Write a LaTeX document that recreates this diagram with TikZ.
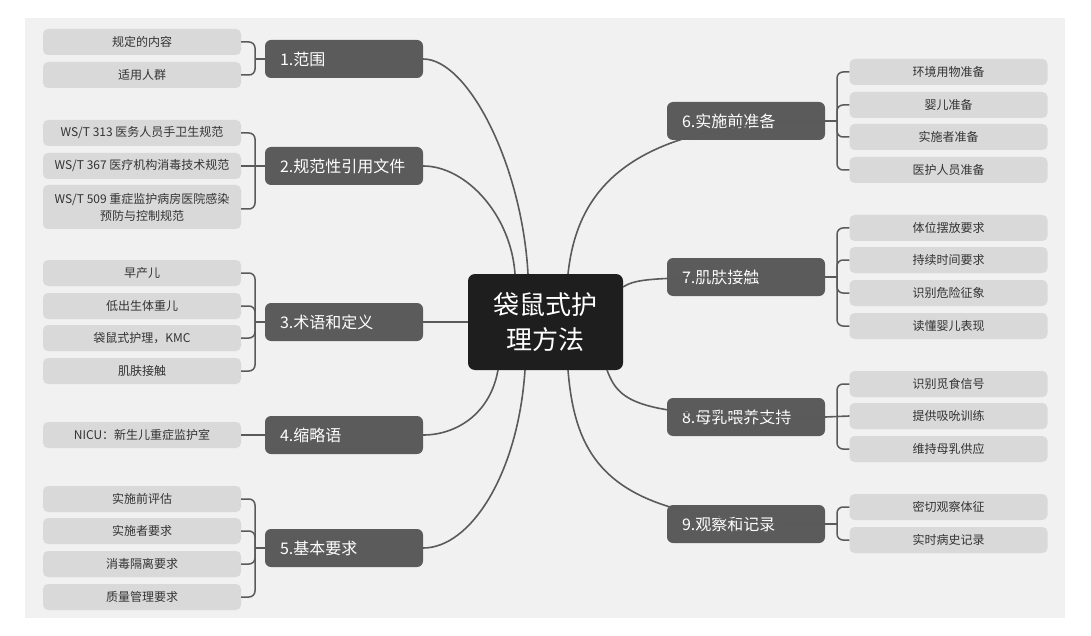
\documentclass[tikz,border=0pt]{standalone}
\usepackage{fontspec}
\setmainfont{Noto Sans CJK SC}
\definecolor{bgc}{HTML}{F1F1F1}
\definecolor{leafc}{HTML}{D9D9D9}
\definecolor{topicc}{HTML}{5B5B5B}
\definecolor{rootc}{HTML}{1E1E1E}
\definecolor{linec}{HTML}{5A5A5A}
\definecolor{leaftext}{HTML}{333333}
\begin{document}
\begin{tikzpicture}[x=1pt,y=-1pt,
  leaf/.style={fill=leafc, rounded corners=5pt, minimum width=198pt, minimum height=26pt, inner sep=0pt, text=leaftext, font=\fontsize{12}{17}\selectfont, align=center},
  topic/.style={fill=topicc, rounded corners=6pt, minimum height=38pt, inner xsep=15pt, inner ysep=0pt, text width=128pt, align=left, text=white, font=\fontsize{16}{19}\selectfont},
  root/.style={fill=rootc, rounded corners=7pt, minimum width=155pt, minimum height=96pt, inner sep=0pt, text=white, align=center, font=\fontsize{26}{35}\selectfont},
  br/.style={draw=linec, line width=1.5pt, rounded corners=6pt},
  conn/.style={draw=linec, line width=1.6pt}
]
\fill[white] (0,0) rectangle (1091,636);
\useasboundingbox (0,0) rectangle (1091,636);
\fill[bgc] (25,18) rectangle (1065,618);

% root
\node[root] (c) at (545.5,322) {袋鼠式护\\理方法};

% left topics
\node[topic] (t1) at (344,59) {1.范围};
\node[topic] (t2) at (344,166) {2.规范性引用文件};
\node[topic] (t3) at (344,322) {3.术语和定义};
\node[topic] (t4) at (344,435) {4.缩略语};
\node[topic] (t5) at (344,548) {5.基本要求};
% right topics
\node[topic] (t6) at (746,121) {6.实施前准备};
\node[topic] (t7) at (746,277) {7.肌肤接触};
\node[topic] (t8) at (746,417) {8.母乳喂养支持};
\node[topic] (t9) at (746,524) {9.观察和记录};

% left leaves
\node[leaf] (l11) at (142,42) {规定的内容};
\node[leaf] (l12) at (142,75) {适用人群};
\node[leaf] (l21) at (142,133) {WS/T 313 医务人员手卫生规范};
\node[leaf] (l22) at (142,166) {WS/T 367 医疗机构消毒技术规范};
\node[leaf, minimum height=44pt] (l23) at (142,207) {WS/T 509 重症监护病房医院感染\\预防与控制规范};
\node[leaf] (l31) at (142,273) {早产儿};
\node[leaf] (l32) at (142,306) {低出生体重儿};
\node[leaf] (l33) at (142,338) {袋鼠式护理，KMC};
\node[leaf] (l34) at (142,371) {肌肤接触};
\node[leaf] (l41) at (142,435) {NICU：新生儿重症监护室};
\node[leaf] (l51) at (142,499) {实施前评估};
\node[leaf] (l52) at (142,531) {实施者要求};
\node[leaf] (l53) at (142,564) {消毒隔离要求};
\node[leaf] (l54) at (142,597) {质量管理要求};

% right leaves
\node[leaf] (r61) at (948.5,72) {环境用物准备};
\node[leaf] (r62) at (948.5,105) {婴儿准备};
\node[leaf] (r63) at (948.5,137) {实施者准备};
\node[leaf] (r64) at (948.5,170) {医护人员准备};
\node[leaf] (r71) at (948.5,228) {体位摆放要求};
\node[leaf] (r72) at (948.5,260) {持续时间要求};
\node[leaf] (r73) at (948.5,293) {识别危险征象};
\node[leaf] (r74) at (948.5,326) {读懂婴儿表现};
\node[leaf] (r81) at (948.5,384) {识别觅食信号};
\node[leaf] (r82) at (948.5,416) {提供吸吮训练};
\node[leaf] (r83) at (948.5,449) {维持母乳供应};
\node[leaf] (r91) at (948.5,507) {密切观察体征};
\node[leaf] (r92) at (948.5,540) {实时病史记录};

% left brackets
\coordinate (b1) at (255,59);
\coordinate (b2) at (255,166);
\coordinate (b3) at (255,322);
\coordinate (b5) at (255,548);
\draw[br] (l11.east) -| (b1) |- (l12.east);
\draw[conn] (b1) -- (t1.west);
\draw[br] (l21.east) -| (b2) |- ([yshift=-2pt]l23.east);
\draw[conn] (l22.east) -- (t2.west);
\draw[br] (l31.east) -| (b3) |- (l34.east);
\draw[br] (l32.east) -| (b3);
\draw[br] (l33.east) -| (b3);
\draw[conn] (b3) -- (t3.west);
\draw[conn] (l41.east) -- (t4.west);
\draw[br] (l51.east) -| (b5) |- (l54.east);
\draw[br] (l52.east) -| (b5);
\draw[br] (l53.east) -| (b5);
\draw[conn] (b5) -- (t5.west);

% right brackets
\coordinate (b6) at (837,121);
\coordinate (b7) at (837,277);
\coordinate (b9) at (837,524);
\draw[br] (r61.west) -| (b6) |- (r64.west);
\draw[br] (r62.west) -| (b6);
\draw[br] (r63.west) -| (b6);
\draw[conn] (b6) -- (t6.east);
\draw[br] (r71.west) -| (b7) |- (r74.west);
\draw[br] (r72.west) -| (b7);
\draw[br] (r73.west) -| (b7);
\draw[conn] (b7) -- (t7.east);
\draw[br] (r81.west) -| (837,416.5) |- (r83.west);
\draw[conn] (r82.west) -- (t8.east);
\draw[br] (r91.west) -| (b9) |- (r92.west);
\draw[conn] (b9) -- (t9.east);

% root connectors
\coordinate (s1) at (528,274);
\coordinate (s2) at (515,274);
\coordinate (s6) at (568,274);
\coordinate (s7) at (623,287);
\coordinate (s4) at (498,370);
\coordinate (s5) at (525,370);
\coordinate (s9) at (568,370);
\coordinate (s8) at (607,370);
\draw[conn] (s1) .. controls (522,165) and (468,59) .. (t1.east);
\draw[conn] (s2) .. controls (511,215) and (466,166) .. (t2.east);
\draw[conn] (c.west) -- (t3.east);
\draw[conn] (s4) .. controls (490,415) and (455,435) .. (t4.east);
\draw[conn] (s5) .. controls (518,475) and (470,548) .. (t5.east);
\draw[conn] (s6) .. controls (576,200) and (617,121) .. (t6.east);
\draw[conn] (s7) .. controls (638,278) and (650,277) .. (t7.east);
\draw[conn] (s8) .. controls (620,405) and (640,417) .. (t8.east);
\draw[conn] (s9) .. controls (576,470) and (617,524) .. (t9.east);
\end{tikzpicture}
\end{document}
